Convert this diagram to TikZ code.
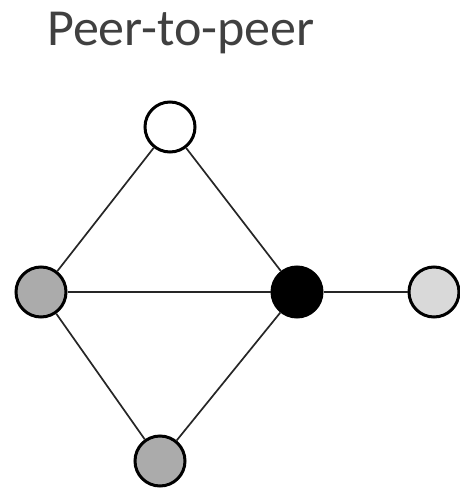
\documentclass[tikz,border=0pt]{standalone}
\usepackage{fontspec}
\setmainfont{Carlito}
\begin{document}
\begin{tikzpicture}[x=1pt,y=-1pt,
  peer/.style={circle,draw=black,line width=3pt,minimum size=50pt,inner sep=0pt},
  link/.style={line width=1.7pt,draw=black!85}]
\useasboundingbox (0,0) rectangle (459,493);
\node[anchor=base west,text=black!75,font=\fontsize{52}{60}\selectfont,inner sep=0pt] (title) at (47,45) {Peer-to-peer};
\node[peer,fill=white] (top) at (170,127) {};
\node[peer,fill=black!33] (left) at (41,292) {};
\node[peer,fill=black] (hub) at (297,292) {};
\node[peer,fill=black!15] (right) at (434,292) {};
\node[peer,fill=black!33] (bottom) at (160,461) {};
\draw[link] (top) -- (left);
\draw[link] (top) -- (hub);
\draw[link] (left) -- (hub);
\draw[link] (hub) -- (right);
\draw[link] (left) -- (bottom);
\draw[link] (bottom) -- (hub);
\end{tikzpicture}
\end{document}
